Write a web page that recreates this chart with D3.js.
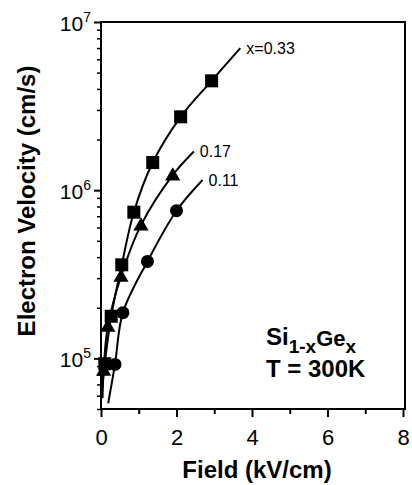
<!DOCTYPE html>
<html><head><meta charset="utf-8">
<script src="https://cdn.jsdelivr.net/npm/d3@7"></script>
<style>
body{margin:0;background:#fff;}
svg{display:block;font-family:"Liberation Sans",Arial,Helvetica,sans-serif;}
</style></head>
<body>
<svg id="c" width="412" height="485"></svg>
<script>
// Data
const seriesNames = ["x=0.33", "0.17", "0.11"];
const sqField = [0.10, 0.27, 0.55, 0.87, 1.37, 2.11, 2.93];
const sqVel   = [9.3e4, 1.78e5, 3.6e5, 7.4e5, 1.46e6, 2.73e6, 4.47e6];
const triField = [0.07, 0.18, 0.53, 1.06, 1.90];
const triVel   = [8.5e4, 1.55e5, 3.07e5, 6.2e5, 1.23e6];
const cirField = [0.37, 0.58, 1.23, 2.00];
const cirVel   = [9.2e4, 1.87e5, 3.77e5, 7.55e5];
// fitted curve ends
const sqCurveStart = [0.02, 6.2e4],  sqCurveEnd = [3.69, 7.0e6];
const triCurveStart = [0.04, 5.8e4], triCurveEnd = [2.46, 1.7e6];
const cirCurveStart = [0.19, 5.4e4], cirCurveEnd = [2.69, 1.15e6];
const xTicks = [0, 2, 4, 6, 8];
const xMinorTicks = [1, 3, 5, 7];
const yTicks = [1e5, 1e6, 1e7];
const yTickExp = ["5", "6", "7"];

const svg = d3.select("#c");
const L = 101, R = 404, T = 22, B = 409;
const x = d3.scaleLinear().domain([0, 8]).range([L, R - 1]);
const y = d3.scaleLog().domain([5e4, 1e7]).range([B, T]);

// frame
svg.append("rect").attr("x", L).attr("y", T).attr("width", R - L + 1).attr("height", B - T)
  .attr("fill", "none").attr("stroke", "#000").attr("stroke-width", 2);

// x axis
const xAxis = d3.axisBottom(x).tickValues(xTicks).tickSize(8).tickPadding(12).tickFormat(d3.format("d"));
const gx = svg.append("g").attr("transform", `translate(0,${B})`).call(xAxis);
gx.select(".domain").remove();
gx.selectAll("line").attr("stroke-width", 2);
gx.selectAll("text").attr("font-size", 22).attr("fill", "#000");
const gxm = svg.append("g").attr("transform", `translate(0,${B})`)
  .call(d3.axisBottom(x).tickValues(xMinorTicks).tickSize(5).tickFormat(""));
gxm.select(".domain").remove();
gxm.selectAll("line").attr("stroke-width", 2);

// y axis
const minor = [];
[1e4, 1e5, 1e6].forEach(dec => { for (let k = 2; k <= 9; k++) { const v = dec * k; if (v >= 5e4 && v < 1e7) minor.push(v); } });
const gy = svg.append("g").attr("transform", `translate(${L},0)`)
  .call(d3.axisLeft(y).tickValues(yTicks).tickSize(7).tickFormat(""));
gy.select(".domain").remove();
gy.selectAll("line").attr("stroke-width", 2);
const gym = svg.append("g").attr("transform", `translate(${L},0)`)
  .call(d3.axisLeft(y).tickValues(minor).tickSize(4).tickFormat(""));
gym.select(".domain").remove();
gym.selectAll("line").attr("stroke-width", 1.5);
yTicks.forEach((v, i) => {
  const t = svg.append("text").attr("x", 91).attr("y", y(v) + 9).attr("text-anchor", "end")
    .attr("font-size", 21).attr("fill", "#000");
  t.append("tspan").text("10");
  t.append("tspan").attr("font-size", 14).attr("dy", -9).text(yTickExp[i]);
});

// curves
const line = d3.line().x(d => x(d[0])).y(d => y(d[1])).curve(d3.curveCatmullRom.alpha(0.5));
function pts(fs, vs) { return fs.map((f, i) => [f, vs[i]]); }
const curves = [
  [sqCurveStart, ...pts(sqField, sqVel), sqCurveEnd],
  [triCurveStart, ...pts(triField, triVel), triCurveEnd],
  [cirCurveStart, ...pts(cirField, cirVel), cirCurveEnd]
];
svg.append("g").selectAll("path").data(curves).join("path")
  .attr("d", line).attr("fill", "none").attr("stroke", "#000").attr("stroke-width", 2);

// markers
svg.append("g").selectAll("rect").data(pts(sqField, sqVel)).join("rect")
  .attr("x", d => x(d[0]) - 6.5).attr("y", d => y(d[1]) - 6.5).attr("width", 13).attr("height", 13).attr("fill", "#000");
const tri = d3.symbol().type(d3.symbolTriangle).size(100);
svg.append("g").selectAll("path").data(pts(triField, triVel)).join("path")
  .attr("d", tri).attr("transform", d => `translate(${x(d[0])},${y(d[1]) + 1})`).attr("fill", "#000");
svg.append("g").selectAll("circle").data(pts(cirField, cirVel)).join("circle")
  .attr("cx", d => x(d[0])).attr("cy", d => y(d[1])).attr("r", 6.5).attr("fill", "#000");

// series labels
const ends = [sqCurveEnd, triCurveEnd, cirCurveEnd];
seriesNames.forEach((n, i) => {
  svg.append("text").attr("x", x(ends[i][0]) + 6).attr("y", y(ends[i][1]) + 6)
    .attr("font-size", 16).attr("fill", "#000").text(n);
});

// annotation
const a1 = svg.append("text").attr("x", 266).attr("y", 345).attr("font-size", 24).attr("font-weight", "bold").attr("fill", "#000");
a1.append("tspan").text("Si");
a1.append("tspan").attr("dy", 8).attr("font-size", 19).text("1-x");
a1.append("tspan").attr("dy", -7).attr("font-size", 22).text("Ge");
a1.append("tspan").attr("dy", 7).attr("font-size", 19).text("x");
svg.append("text").attr("x", 266).attr("y", 377).attr("font-size", 24).attr("font-weight", "bold").attr("fill", "#000").text("T = 300K");

// axis titles
svg.append("text").attr("x", 257).attr("y", 478).attr("text-anchor", "middle")
  .attr("font-size", 24).attr("font-weight", "bold").attr("fill", "#000").text("Field (kV/cm)");
svg.append("text").attr("transform", "translate(35,201) rotate(-90)").attr("text-anchor", "middle")
  .attr("font-size", 24).attr("font-weight", "bold").attr("fill", "#000").text("Electron Velocity (cm/s)");
</script>
</body></html>
